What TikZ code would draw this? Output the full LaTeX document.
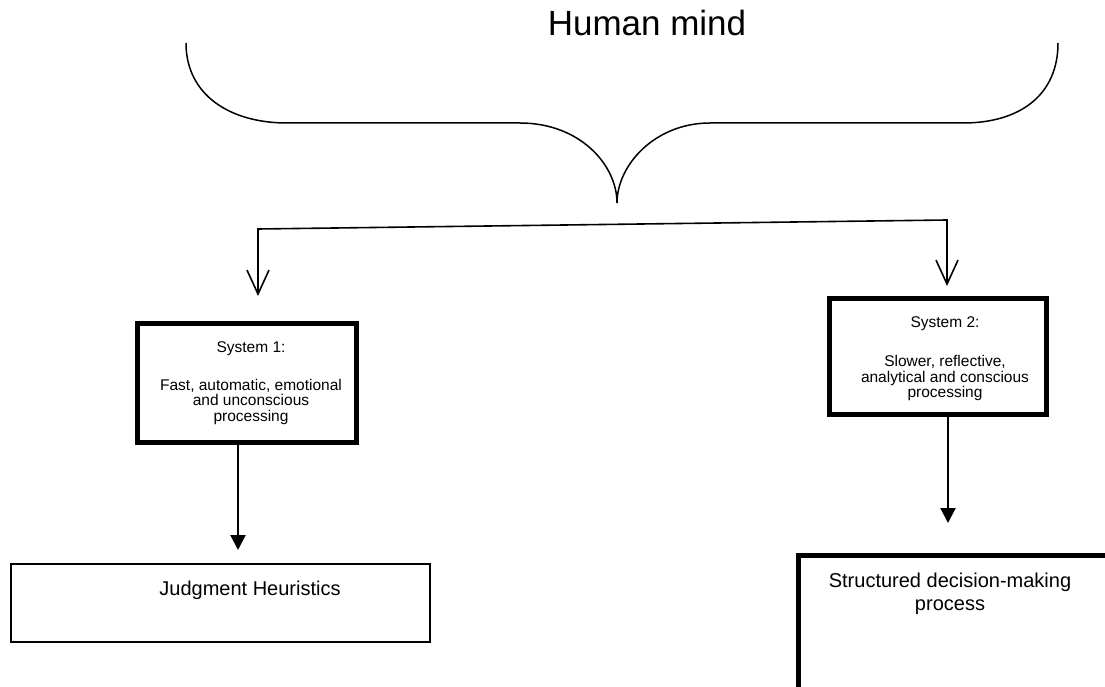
\documentclass[tikz,border=0pt]{standalone}
\usepackage{fontspec}
\setmainfont{Liberation Sans}
\usetikzlibrary{arrows.meta}
\begin{document}
\begin{tikzpicture}[x=1pt,y=-1pt,
  thinline/.style={line width=1.5pt},
  sysbox/.style={draw,line width=5pt,inner sep=0pt},
  outbox/.style={draw,line width=1.6pt,inner sep=0pt},
  systext/.style={font=\fontsize{15.5}{15.5}\selectfont,align=center,anchor=base,inner sep=0pt},
  outtext/.style={font=\fontsize{20}{23}\selectfont,align=center,anchor=base,inner sep=0pt},
  openarrow/.style={line width=1.6pt,{Straight Barb[length=24pt,width=22pt,line width=1.6pt]}-{Straight Barb[length=24pt,width=22pt,line width=1.6pt]}},
  solidarrow/.style={line width=2.2pt,-{Triangle[length=15pt,width=15pt]}}
]
\useasboundingbox (0,0) rectangle (1105,687);
\clip (0,0) rectangle (1105,687);

% title
\node[font=\fontsize{35}{40}\selectfont,anchor=base,inner sep=0pt] (title) at (647,36) {Human mind};

% brace
\draw[thinline] (186,43) .. controls (186,95) and (230,123) .. (287,123) -- (520,123)
  .. controls (580,123) and (617,165) .. (617,203)
  .. controls (617,165) and (655,123) .. (710,123) -- (963,123)
  .. controls (1020,123) and (1058,95) .. (1058,43);

% boxes
\node[sysbox,minimum width=219pt,minimum height=119pt] (s1) at (246.5,382.5) {};
\node[sysbox,minimum width=217pt,minimum height=116pt] (s2) at (937.5,356) {};
\node[outbox,minimum width=419pt,minimum height=78pt] (jh) at (220.5,603) {};
\node[sysbox,minimum width=314pt,minimum height=134pt] (sd) at (955,622) {};

% texts (base anchor = last line baseline)
\node[systext] (s1t) at (251,421) {System 1:\\[22pt]Fast, automatic, emotional\\and unconscious\\processing};
\node[systext] (s2t) at (945,397.5) {System 2:\\[23.5pt]Slower, reflective,\\analytical and conscious\\processing};
\node[outtext] (jht) at (250,595) {Judgment Heuristics};
\node[outtext] (sdt) at (950,610) {Structured decision-making\\process};

% connectors
\coordinate (j1) at (258,229);
\coordinate (j2) at (947,220);
\coordinate (a1) at (258,296);
\coordinate (a2) at (947,286);
\draw[openarrow] (a1) -- (j1) -- (j2) -- (a2);

\coordinate (h1) at (238,550);
\coordinate (h2) at (948,523);
\draw[solidarrow] (s1.south -| h1) -- (h1);
\draw[solidarrow] (s2.south -| h2) -- (h2);
\end{tikzpicture}
\end{document}
